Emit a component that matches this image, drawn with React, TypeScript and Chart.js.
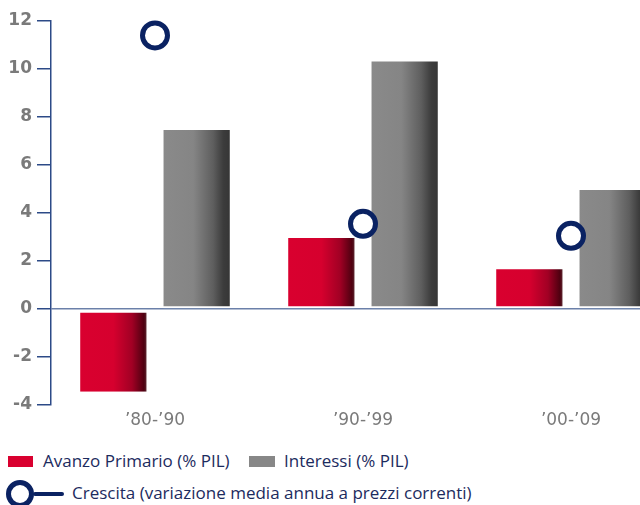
import React, { useEffect, useRef } from "react";
import { Chart, registerables } from "chart.js";

Chart.register(...registerables);

const categories = ["\u201980-\u201990", "\u201990-\u201999", "\u201900-\u201909"];
const avanzoPrimario = [-3.45, 3.0, 1.7];
const interessi = [7.5, 10.35, 5.0];
const crescita = [11.4, 3.55, 3.05];
const yMin = -4;
const yMax = 12;
const yStep = 2;

const seriesNames = [
  "Avanzo Primario (% PIL)",
  "Interessi (% PIL)",
  "Crescita (variazione media annua a prezzi correnti)",
];

const CAT_PCT = 0.8;
const BAR_PCT = 0.8;
const LEGEND_FONT = "'Open Sans', 'Noto Sans', sans-serif";
const TICK_FONT = "'DejaVu Sans', 'Open Sans', sans-serif";
const NAVY = "#0a2262";
const TEXT_NAVY = "#1c2b5e";
const AXIS = "#2c4a87";
const TICK_GREY = "#7a7a7a";

const RED_STOPS: [number, string][] = [
  [0, "#d9002f"],
  [0.5, "#d6002e"],
  [0.78, "#a10024"],
  [0.96, "#4e0010"],
  [1, "#5e2a33"],
];
const GREY_STOPS: [number, string][] = [
  [0, "#8a8a8a"],
  [0.45, "#858585"],
  [0.75, "#5e5e5e"],
  [0.9, "#3c3c3c"],
  [1, "#363636"],
];

function barGradient(ctx: any, stops: [number, string][], slotIndex: number) {
  const chart = ctx.chart;
  const xs = chart.scales && chart.scales.x;
  if (!xs || ctx.dataIndex == null || !chart.chartArea) return stops[0][1];
  const n = categories.length;
  const catW = (xs.right - xs.left) / n;
  const groupW = catW * CAT_PCT;
  const slot = groupW / 2;
  const barW = slot * BAR_PCT;
  const c = xs.getPixelForValue(ctx.dataIndex);
  const left = c - groupW / 2 + slot * (slotIndex + 0.5) - barW / 2;
  if (!isFinite(left)) return stops[0][1];
  const g = chart.ctx.createLinearGradient(left, 0, left + barW, 0);
  stops.forEach(([o, col]) => g.addColorStop(o, col));
  return g;
}

function barBorder(ctx: any) {
  const v = ctx.raw;
  if (typeof v !== "number") return 0;
  return v >= 0 ? { top: 1, bottom: 2, left: 0, right: 0 } : { top: 3, bottom: 0, left: 0, right: 0 };
}

export default function App() {
  const canvasRef = useRef<HTMLCanvasElement | null>(null);

  useEffect(() => {
    if (!canvasRef.current) return;
    const chart = new Chart(canvasRef.current, {
      type: "bar",
      data: {
        labels: categories,
        datasets: [
          {
            type: "line",
            label: seriesNames[2],
            data: crescita,
            showLine: false,
            pointRadius: 12.5,
            pointHoverRadius: 12.5,
            pointBorderWidth: 5,
            pointBorderColor: NAVY,
            pointBackgroundColor: "#ffffff",
            borderColor: NAVY,
            order: 0,
            clip: false,
          } as any,
          {
            type: "bar",
            label: seriesNames[0],
            data: avanzoPrimario,
            backgroundColor: (ctx: any) => barGradient(ctx, RED_STOPS, 0),
            borderColor: "rgba(255,255,255,0.75)",
            borderWidth: barBorder as any,
            borderSkipped: false,
            categoryPercentage: CAT_PCT,
            barPercentage: BAR_PCT,
            order: 1,
          },
          {
            type: "bar",
            label: seriesNames[1],
            data: interessi,
            backgroundColor: (ctx: any) => barGradient(ctx, GREY_STOPS, 1),
            borderColor: "rgba(255,255,255,0.75)",
            borderWidth: barBorder as any,
            borderSkipped: false,
            categoryPercentage: CAT_PCT,
            barPercentage: BAR_PCT,
            order: 1,
          },
        ],
      },
      options: {
        animation: false,
        responsive: false,
        maintainAspectRatio: false,
        layout: { autoPadding: false, padding: { top: 21, left: 0, right: 0, bottom: 0 } },
        plugins: {
          legend: { display: false },
          tooltip: { enabled: false },
        },
        scales: {
          x: {
            grid: { display: false, drawTicks: false },
            border: { display: false },
            ticks: {
              color: TICK_GREY,
              padding: 5,
              font: { family: TICK_FONT, size: 17, weight: "normal" as any },
            },
            afterFit: (s: any) => {
              s.height = 35;
            },
          },
          y: {
            min: yMin,
            max: yMax,
            ticks: {
              stepSize: yStep,
              color: TICK_GREY,
              padding: 5,
              font: { family: TICK_FONT, size: 17, weight: "bold" as any },
            },
            grid: {
              color: (c: any) => (c.tick && c.tick.value === 0 ? "#6b80a9" : "rgba(0,0,0,0)"),
              tickColor: AXIS,
              tickLength: 14,
              lineWidth: 1.5,
            },
            border: { color: AXIS, width: 1.5 },
            afterFit: (s: any) => {
              s.width = 51;
            },
          },
        },
      },
    });
    return () => chart.destroy();
  }, []);

  const legendText: React.CSSProperties = {
    position: "absolute",
    fontFamily: LEGEND_FONT,
    fontSize: 17,
    color: TEXT_NAVY,
    whiteSpace: "nowrap",
    lineHeight: "20px",
  };

  return (
    <div
      style={{
        position: "fixed",
        left: 0,
        top: 0,
        width: 640,
        height: 505,
        overflow: "hidden",
        background: "#ffffff",
      }}
    >
      <canvas ref={canvasRef} width={675} height={440} style={{ position: "absolute", left: 0, top: 0 }} />
      <div style={{ position: "absolute", left: 8, top: 456, width: 25, height: 11, background: "#d9002f" }} />
      <div style={{ ...legendText, left: 43, top: 451 }}>{seriesNames[0]}</div>
      <div style={{ position: "absolute", left: 249, top: 456, width: 26, height: 11, background: "#878787" }} />
      <div style={{ ...legendText, left: 284, top: 451 }}>{seriesNames[1]}</div>
      <div
        style={{
          position: "absolute",
          left: 6,
          top: 480,
          width: 28,
          height: 28,
          boxSizing: "border-box",
          border: `5px solid ${NAVY}`,
          borderRadius: "50%",
        }}
      />
      <div style={{ position: "absolute", left: 33, top: 492, width: 31, height: 4, background: NAVY, borderRadius: 2 }} />
      <div style={{ ...legendText, left: 72, top: 483 }}>{seriesNames[2]}</div>
    </div>
  );
}
